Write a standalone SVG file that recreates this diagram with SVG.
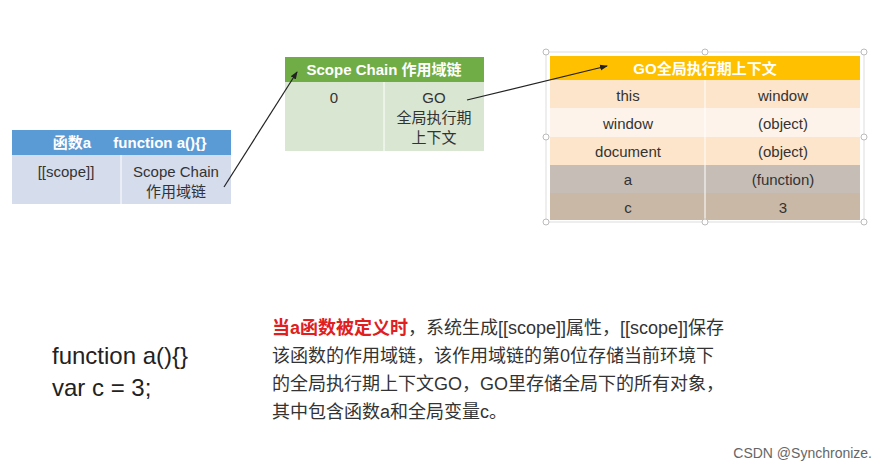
<svg xmlns="http://www.w3.org/2000/svg" width="884" height="474" viewBox="0 0 884 474">
<defs>
<style>
text{font-family:"Liberation Sans","Noto Sans CJK SC",sans-serif;fill:#333;font-size:15px;text-anchor:middle}
.h{fill:#fff;font-weight:bold;font-size:15px}
</style>
<marker id="ar" markerWidth="8" markerHeight="8" refX="7" refY="4" orient="auto" markerUnits="userSpaceOnUse"><path d="M0,1 L8,4 L0,7z" fill="#222"/></marker>
</defs>
<rect width="884" height="474" fill="#fff"/>
<g id="func">
<rect x="12" y="130" width="219" height="25" fill="#5b9bd5"/>
<text x="72" y="148" class="h">函数a</text>
<text x="160" y="148" class="h">function a(){}</text>
<rect x="12" y="155" width="219" height="49" fill="#d5dcec"/>
<line x1="121" y1="155" x2="121" y2="204" stroke="#fff"/>
<text x="66" y="177">[[scope]]</text>
<text x="176" y="177">Scope Chain</text>
<text x="176" y="197">作用域链</text>
</g>
<g id="scopechain">
<rect x="285" y="57" width="199" height="25" fill="#70ad47"/>
<text x="384" y="75" class="h">Scope Chain 作用域链</text>
<rect x="285" y="82" width="199" height="69" fill="#d8e6d2"/>
<line x1="384" y1="82" x2="384" y2="151" stroke="#fff"/>
<text x="334" y="103">0</text>
<text x="434" y="103">GO</text>
<text x="434" y="123">全局执行期</text>
<text x="434" y="143">上下文</text>
</g>
<g id="go">
<rect x="546" y="52" width="318" height="170" fill="none" stroke="#ddd"/>
<rect x="550" y="56" width="310" height="24" fill="#ffc000"/>
<text x="705" y="74" class="h">GO全局执行期上下文</text>
<rect x="550" y="80" width="310" height="28" fill="#fde5cc"/>
<rect x="550" y="108" width="310" height="29" fill="#fef3ea"/>
<rect x="550" y="137" width="310" height="28" fill="#fde5cc"/>
<rect x="550" y="165" width="310" height="28" fill="#c6bdb6"/>
<rect x="550" y="193" width="310" height="27" fill="#cab8a6"/>
<line x1="705" y1="80" x2="705" y2="220" stroke="#fff"/>
<text x="628" y="101">this</text><text x="783" y="101">window</text>
<text x="628" y="129">window</text><text x="783" y="129">(object)</text>
<text x="628" y="157">document</text><text x="783" y="157">(object)</text>
<text x="628" y="185">a</text><text x="783" y="185">(function)</text>
<text x="628" y="213">c</text><text x="783" y="213">3</text>
<g fill="#fff" stroke="#bbb"><circle cx="546" cy="52" r="3"/><circle cx="705" cy="52" r="3"/><circle cx="864" cy="52" r="3"/><circle cx="546" cy="137" r="3"/><circle cx="864" cy="137" r="3"/><circle cx="546" cy="222" r="3"/><circle cx="705" cy="222" r="3"/><circle cx="864" cy="222" r="3"/></g>
</g>
<g id="connectors" stroke="#222" stroke-width="1.2" fill="none">
<line x1="224" y1="187" x2="297" y2="72" marker-end="url(#ar)"/>
<line x1="467" y1="100" x2="607" y2="66" marker-end="url(#ar)"/>
</g>
<g id="code">
<text x="52" y="364" style="font-size:24px;text-anchor:start;fill:#222">function a(){}</text>
<text x="52" y="396" style="font-size:24px;text-anchor:start;fill:#222">var c = 3;</text>
</g>
<g id="desc">
<text x="272" y="334" style="text-anchor:start;font-size:18px"><tspan fill="#e02020" font-weight="bold">当a函数被定义时</tspan>，系统生成[[scope]]属性，[[scope]]保存</text>
<text x="272" y="362" style="text-anchor:start;font-size:18px">该函数的作用域链，该作用域链的第0位存储当前环境下</text>
<text x="272" y="390" style="text-anchor:start;font-size:18px">的全局执行期上下文GO，GO里存储全局下的所有对象，</text>
<text x="272" y="418" style="text-anchor:start;font-size:18px">其中包含函数a和全局变量c。</text>
</g>
<text x="872" y="458" style="text-anchor:end;font-size:14px;fill:#666">CSDN @Synchronize.</text>
</svg>
